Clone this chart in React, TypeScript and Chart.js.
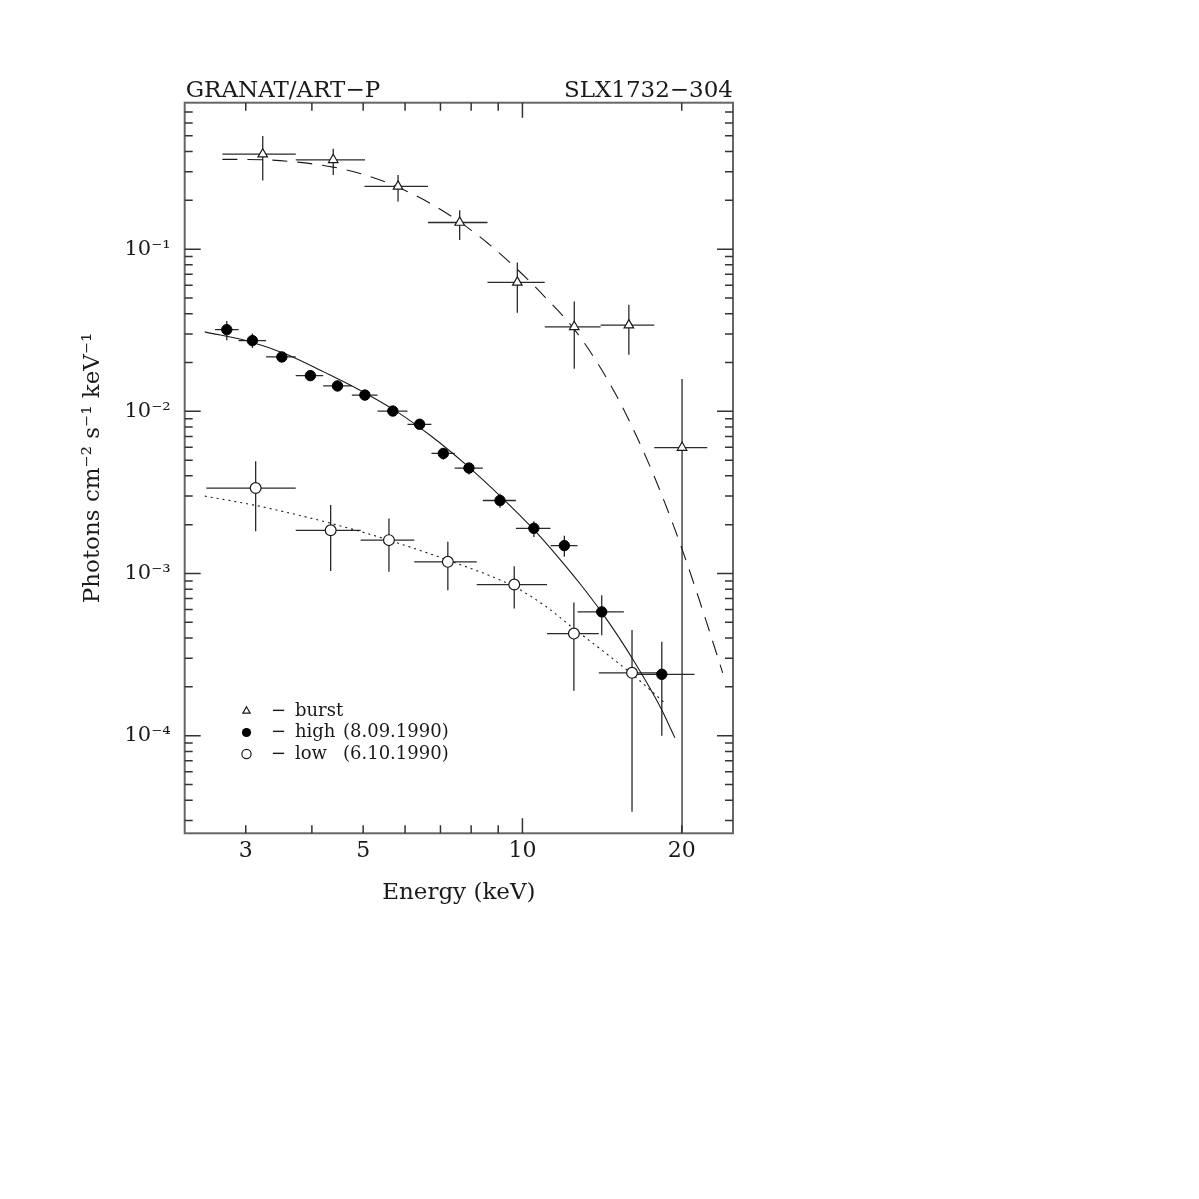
import React, { useEffect, useRef } from 'react';
import { Chart, registerables } from 'chart.js';

Chart.register(...registerables);

// ---- axis ranges ----
const X_MIN = 2.3;
const X_MAX = 25;
const Y_MIN = 2.5e-5;
const Y_MAX = 0.8;

// ---- tick definitions ----
const xTickValues = [3, 4, 5, 6, 7, 8, 9, 10, 20];
const xTickLabels = ['3', '', '5', '', '', '', '', '10', '20'];
const xMajorTicks = [10];
const yDecades = [1e-4, 1e-3, 1e-2, 1e-1];
const yDecadeLabels = ['10⁻⁴', '10⁻³', '10⁻²', '10⁻¹'];
const yMinorMultipliers = [2, 3, 4, 5, 6, 7, 8, 9];

// ---- burst (open triangles) ----
const burstE = [3.23, 4.39, 5.82, 7.61, 9.78, 12.53, 15.89, 20.03];
const burstELo = [2.71, 3.73, 5.03, 6.63, 8.59, 11.02, 14.05, 17.75];
const burstEHi = [3.73, 5.04, 6.63, 8.59, 11.02, 14.05, 17.75, 22.35];
const burstF = [0.385, 0.3555, 0.244, 0.146, 0.0624, 0.0332, 0.034, 0.00598];
const burstFLo = [0.2647, 0.287, 0.197, 0.114, 0.0405, 0.0183, 0.0223, 2.5e-5];
const burstFHi = [0.498, 0.4155, 0.287, 0.174, 0.0826, 0.0476, 0.0454, 0.01585];

// ---- high state 8.09.1990 (filled circles) ----
const highE = [2.762, 3.088, 3.51, 3.974, 4.472, 5.038, 5.689, 6.393, 7.087, 7.924, 9.07, 10.51, 12.0, 14.12, 18.34];
const highELo = [2.624, 2.907, 3.278, 3.729, 4.201, 4.76, 5.323, 6.065, 6.73, 7.445, 8.416, 9.72, 11.3, 12.71, 16.04];
const highEHi = [2.907, 3.278, 3.729, 4.201, 4.76, 5.323, 6.065, 6.73, 7.445, 8.416, 9.72, 11.3, 12.71, 15.55, 21.15];
const highF = [0.0319, 0.0273, 0.02164, 0.0166, 0.01434, 0.0126, 0.01004, 0.00832, 0.0055, 0.00447, 0.00282, 0.0019, 0.001486, 5.8e-4, 2.39e-4];
const highFLo = [0.0274, 0.0246, 0.0202, 0.01556, 0.0133, 0.0117, 0.0094, 0.0078, 0.00503, 0.00408, 0.00254, 0.001676, 0.001268, 4.16e-4, 1.0e-4];
const highFHi = [0.0361, 0.0302, 0.0229, 0.01795, 0.0155, 0.0135, 0.0107, 0.0088, 0.00589, 0.0048, 0.0031, 0.0021, 0.00171, 7.35e-4, 3.79e-4];

// ---- low state 6.10.1990 (open circles) ----
const lowE = [3.132, 4.341, 5.594, 7.228, 9.65, 12.51, 16.11];
const lowELo = [2.527, 3.729, 4.947, 6.245, 8.198, 11.13, 13.94];
const lowEHi = [3.729, 4.947, 6.245, 8.198, 11.13, 13.94, 18.61];
const lowF = [0.003363, 0.001846, 0.001606, 0.00118, 8.55e-4, 4.26e-4, 2.44e-4];
const lowFLo = [0.001825, 0.001035, 0.001024, 7.89e-4, 6.08e-4, 1.89e-4, 3.39e-5];
const lowFHi = [0.00493, 0.002642, 0.002185, 0.001568, 0.00111, 6.63e-4, 4.49e-4];

// ---- model curves ----
const burstModelE = [2.71, 3.23, 3.6, 4.39, 5.07, 5.82, 6.7, 7.61, 8.59, 9.78, 11.02, 12.53, 13.9, 15.26, 16.5, 17.82, 19.27, 20.5, 22.2, 23.9];
const burstModelF = [0.358, 0.356, 0.3485, 0.3206, 0.2849, 0.241, 0.1915, 0.1473, 0.1092, 0.075, 0.0508, 0.03205, 0.01959, 0.01151, 0.00682, 0.00384, 0.002001, 0.001138, 5.2e-4, 2.44e-4];
const highModelE = [2.51, 3.08, 3.6, 4.2, 4.91, 5.73, 6.7, 7.82, 9.14, 10.51, 11.72, 12.87, 14.12, 15.26, 16.24, 17.02, 18.25, 19.42];
const highModelF = [0.0309, 0.02669, 0.02236, 0.01757, 0.0136, 0.01017, 0.00709, 0.00469, 0.00294, 0.001864, 0.001244, 8.58e-4, 5.76e-4, 3.98e-4, 2.89e-4, 2.235e-4, 1.485e-4, 9.7e-5];
const lowModelE = [2.51, 3.08, 3.6, 4.33, 5.07, 5.61, 7.24, 9.65, 11.02, 12.47, 16.1, 18.7];
const lowModelF = [0.003, 0.002657, 0.002375, 0.002044, 0.001771, 0.0016, 0.001206, 8.29e-4, 6.33e-4, 4.61e-4, 2.4e-4, 1.56e-4];

// ---- texts ----
const titleLeft = 'GRANAT/ART−P';
const titleRight = 'SLX1732−304';
const xTitle = 'Energy (keV)';
const yTitle = 'Photons cm⁻² s⁻¹ keV⁻¹';
const legendNames = ['burst', 'high', 'low'];
const legendDates = ['', '(8.09.1990)', '(6.10.1990)'];

const FONT = 'DejaVu Serif';
const INK = '#1a1a1a';

const pts = (xs: number[], ys: number[]) => xs.map((x, i) => ({ x, y: ys[i] }));

const errorSets = [
  { e: burstE, lo: burstELo, hi: burstEHi, f: burstF, flo: burstFLo, fhi: burstFHi },
  { e: highE, lo: highELo, hi: highEHi, f: highF, flo: highFLo, fhi: highFHi },
  { e: lowE, lo: lowELo, hi: lowEHi, f: lowF, flo: lowFLo, fhi: lowFHi },
];

const yTickValues: number[] = [];
yDecades.forEach((d) => {
  yTickValues.push(d);
  yMinorMultipliers.forEach((m) => {
    const v = d * m;
    if (v < Y_MAX * 0.999) yTickValues.push(v);
  });
});
yMinorMultipliers.forEach((m) => {
  const v = (yDecades[0] / 10) * m;
  if (v > Y_MIN * 1.001) yTickValues.push(v);
});
yTickValues.sort((a, b) => a - b);

const isDecade = (v: number) => yDecades.some((d) => Math.abs(Math.log10(v) - Math.log10(d)) < 1e-6);

const framePlugin = {
  id: 'frame',
  beforeDatasetsDraw(chart: any) {
    const { ctx, chartArea: a, scales } = chart;
    const xs = scales.x;
    const ys = scales.y;
    ctx.save();
    ctx.beginPath();
    ctx.rect(a.left, a.top, a.right - a.left, a.bottom - a.top);
    ctx.clip();
    ctx.strokeStyle = '#2a2a2a';
    ctx.lineWidth = 1.3;
    errorSets.forEach((s) => {
      s.e.forEach((e, i) => {
        const px = xs.getPixelForValue(e);
        const py = ys.getPixelForValue(s.f[i]);
        ctx.beginPath();
        ctx.moveTo(xs.getPixelForValue(s.lo[i]), py);
        ctx.lineTo(xs.getPixelForValue(s.hi[i]), py);
        ctx.moveTo(px, ys.getPixelForValue(s.fhi[i]));
        ctx.lineTo(px, ys.getPixelForValue(s.flo[i]));
        ctx.stroke();
      });
    });
    ctx.restore();
  },
  afterDraw(chart: any) {
    const { ctx, chartArea: a, scales } = chart;
    const xs = scales.x;
    const ys = scales.y;
    ctx.save();
    // frame
    ctx.strokeStyle = '#666';
    ctx.lineWidth = 2;
    ctx.strokeRect(a.left, a.top, a.right - a.left, a.bottom - a.top);
    // ticks
    ctx.strokeStyle = '#333';
    ctx.lineWidth = 1.5;
    ctx.beginPath();
    xTickValues.forEach((v) => {
      const px = xs.getPixelForValue(v);
      const len = xMajorTicks.includes(v) ? 15 : 8;
      ctx.moveTo(px, a.bottom);
      ctx.lineTo(px, a.bottom - len);
      ctx.moveTo(px, a.top);
      ctx.lineTo(px, a.top + len);
    });
    yTickValues.forEach((v) => {
      const py = ys.getPixelForValue(v);
      const len = isDecade(v) ? 16 : 8;
      ctx.moveTo(a.left, py);
      ctx.lineTo(a.left + len, py);
      ctx.moveTo(a.right, py);
      ctx.lineTo(a.right - len, py);
    });
    ctx.stroke();

    // top titles
    ctx.fillStyle = INK;
    ctx.font = `23px "${FONT}"`;
    ctx.textBaseline = 'alphabetic';
    ctx.textAlign = 'left';
    ctx.fillText(titleLeft, a.left + 1, a.top - 6);
    ctx.textAlign = 'right';
    ctx.fillText(titleRight, a.right, a.top - 6);

    // legend
    const lx = 246.5;
    const rows = [711, 732.5, 754];
    ctx.lineWidth = 1.2;
    ctx.strokeStyle = INK;
    ctx.beginPath();
    const r = 4.2;
    ctx.moveTo(lx, rows[0] - r);
    ctx.lineTo(lx + r * 0.866, rows[0] + r * 0.5);
    ctx.lineTo(lx - r * 0.866, rows[0] + r * 0.5);
    ctx.closePath();
    ctx.fillStyle = '#fff';
    ctx.fill();
    ctx.stroke();
    ctx.beginPath();
    ctx.arc(lx, rows[1], 4.6, 0, Math.PI * 2);
    ctx.fillStyle = '#000';
    ctx.fill();
    ctx.beginPath();
    ctx.arc(lx, rows[2], 4.6, 0, Math.PI * 2);
    ctx.fillStyle = '#fff';
    ctx.fill();
    ctx.stroke();

    ctx.fillStyle = INK;
    ctx.font = `18px "${FONT}"`;
    ctx.textBaseline = 'middle';
    ctx.textAlign = 'left';
    rows.forEach((ry, i) => {
      ctx.fillText('−', 271, ry);
      ctx.fillText(legendNames[i], 295, ry);
      if (legendDates[i]) ctx.fillText(legendDates[i], 343, ry);
    });
    ctx.restore();
  },
};

export default function App() {
  const ref = useRef<HTMLCanvasElement | null>(null);
  useEffect(() => {
    if (!ref.current) return;
    const chart = new Chart(ref.current, {
      type: 'scatter',
      data: {
        datasets: [
          {
            label: 'burst',
            data: pts(burstE, burstF),
            pointStyle: 'triangle',
            pointRadius: 5.5,
            backgroundColor: '#fff',
            borderColor: INK,
            borderWidth: 1.2,
            showLine: false,
          },
          {
            label: 'high (8.09.1990)',
            data: pts(highE, highF),
            pointStyle: 'circle',
            pointRadius: 5.2,
            backgroundColor: '#000',
            borderColor: '#000',
            borderWidth: 1,
            showLine: false,
          },
          {
            label: 'low (6.10.1990)',
            data: pts(lowE, lowF),
            pointStyle: 'circle',
            pointRadius: 5.4,
            backgroundColor: '#fff',
            borderColor: INK,
            borderWidth: 1.2,
            showLine: false,
          },
          {
            label: 'burst model',
            type: 'line',
            data: pts(burstModelE, burstModelF),
            borderColor: INK,
            borderWidth: 1.1,
            borderDash: [15, 10],
            pointRadius: 0,
            cubicInterpolationMode: 'monotone',
            fill: false,
          },
          {
            label: 'high model',
            type: 'line',
            data: pts(highModelE, highModelF),
            borderColor: INK,
            borderWidth: 1.1,
            pointRadius: 0,
            cubicInterpolationMode: 'monotone',
            fill: false,
          },
          {
            label: 'low model',
            type: 'line',
            data: pts(lowModelE, lowModelF),
            borderColor: INK,
            borderWidth: 1.1,
            borderDash: [2, 4],
            pointRadius: 0,
            cubicInterpolationMode: 'monotone',
            fill: false,
          },
        ] as any,
      },
      options: {
        responsive: false,
        animation: false,
        devicePixelRatio: 1,
        layout: { padding: { left: 0, top: 102.7, right: 466, bottom: 0 } },
        plugins: {
          legend: { display: false },
          tooltip: { enabled: false },
          title: { display: false },
        },
        scales: {
          x: {
            type: 'logarithmic',
            position: 'bottom',
            min: X_MIN,
            max: X_MAX,
            grid: { display: false, drawTicks: false },
            border: { display: false },
            afterBuildTicks: (s: any) => {
              s.ticks = xTickValues.map((v) => ({ value: v }));
            },
            afterFit: (s: any) => {
              s.height = 1199 - 833.3;
            },
            ticks: {
              autoSkip: false,
              maxRotation: 0,
              minRotation: 0,
              padding: 5,
              color: INK,
              font: { family: FONT, size: 22 },
              callback: (v: any) => {
                const i = xTickValues.findIndex((t) => Math.abs(t - Number(v)) < 1e-9);
                return i >= 0 ? xTickLabels[i] : '';
              },
            },
            title: {
              display: true,
              text: xTitle,
              color: INK,
              font: { family: FONT, size: 23 },
              padding: { top: 0, bottom: 292.2 },
            },
          },
          y: {
            type: 'logarithmic',
            position: 'left',
            min: Y_MIN,
            max: Y_MAX,
            grid: { display: false, drawTicks: false },
            border: { display: false },
            afterBuildTicks: (s: any) => {
              s.ticks = yTickValues.map((v) => ({ value: v }));
            },
            afterFit: (s: any) => {
              s.width = 184.7;
            },
            ticks: {
              autoSkip: false,
              padding: 14,
              color: INK,
              font: { family: FONT, size: 21 },
              callback: (v: any) => {
                const i = yDecades.findIndex((d) => Math.abs(Math.log10(d) - Math.log10(Number(v))) < 1e-6);
                return i >= 0 ? yDecadeLabels[i] : '';
              },
            },
            title: {
              display: true,
              text: yTitle,
              color: INK,
              font: { family: FONT, size: 23 },
              padding: { top: 79.2, bottom: 0 },
            },
          },
        },
      } as any,
      plugins: [framePlugin],
    });
    return () => chart.destroy();
  }, []);

  return (
    <div style={{ position: 'absolute', left: 0, top: 0, width: 1199, height: 1199, background: '#fff' }}>
      <canvas ref={ref} width={1199} height={1199} style={{ display: 'block', width: 1199, height: 1199 }} />
    </div>
  );
}
